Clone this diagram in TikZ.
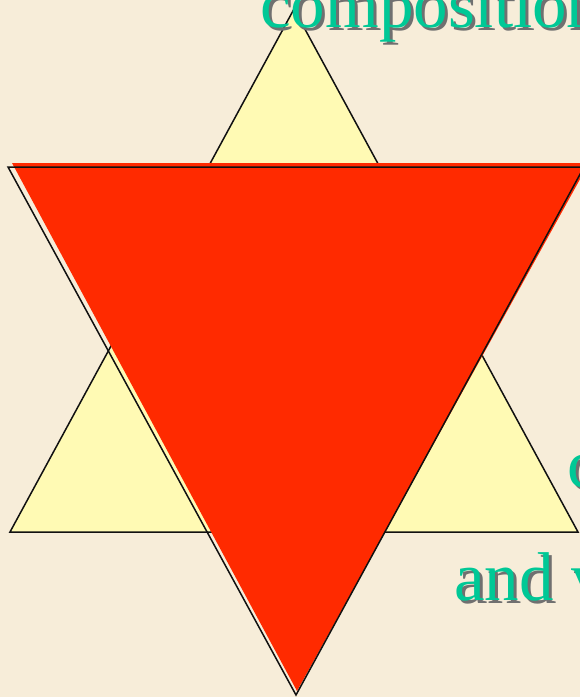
\documentclass[tikz,border=0pt]{standalone}
\usepackage{fontspec}
\setmainfont{Liberation Serif}
\usetikzlibrary{calc}
\definecolor{starParch}{HTML}{F7EDD9}
\definecolor{starYellow}{HTML}{FFFAB4}
\definecolor{starRed}{HTML}{FF2A00}
\definecolor{starTeal}{HTML}{00C896}
\definecolor{starInk}{HTML}{111111}

\begin{document}
\begin{tikzpicture}[x=1pt,y=-1pt]
    \tikzset{word/.style={anchor=base west,inner sep=0pt,text=starTeal,font=\fontsize{69}{69}\selectfont},
      wordshade/.style={word,text=starInk!60}}
    \clip (0,0) rectangle (580,697);
    \fill[starParch] (0,0) rectangle (580,697);
    % upward triangle
    \coordinate (up1) at (294,9);
    \coordinate (up2) at (10,532);
    \coordinate (up3) at (578,532);
    \filldraw[fill=starYellow,draw=starInk,line width=1.5pt] (up1) -- (up2) -- (up3) -- cycle;
    % downward triangle, fill a bit off its outline
    \coordinate (dn1) at (8,167);
    \coordinate (dn2) at (584,167);
    \coordinate (dn3) at (296,695);
    \fill[starRed] (12,163) -- (589,163) -- (297,691) -- cycle;
    \draw[starInk,line width=1.5pt,line join=miter] (dn1) -- (dn2) -- (dn3) -- cycle;
    % words, with shadow
    \node[wordshade] at (263,30) {composition};
    \node[word] (comp) at (260,27) {composition};
    \node[wordshade] at (570,490) {c};
    \node[word] (cword) at (567,487) {c};
    \node[wordshade] at (457,603) {and v};
    \node[word] (andv) at (454,600) {and v};
\end{tikzpicture}
\end{document}
